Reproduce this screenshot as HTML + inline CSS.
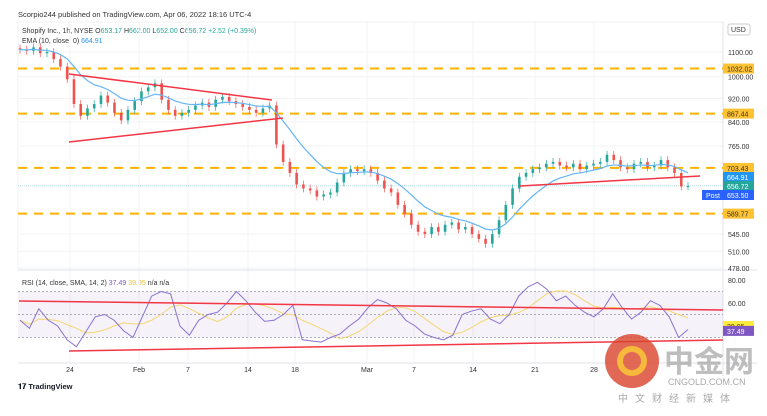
<!DOCTYPE html>
<html><head><meta charset="utf-8"><style>
body{margin:0;background:#fff;font-family:"Liberation Sans","Noto Sans CJK SC",sans-serif;}
#wrap{position:relative;width:767px;height:416px;overflow:hidden;background:#fff;}
svg{position:absolute;left:0;top:0;}
</style></head><body>
<div id="wrap">
<svg id="c" width="767" height="416">
<text x="18" y="17" font-size="7.5" fill="#333">Scorpio244 published on TradingView.com, Apr 06, 2022 18:16 UTC-4</text>
<text x="22" y="33" font-size="7" fill="#333">Shopify Inc., 1h, NYSE <tspan fill="#333">O</tspan><tspan fill="#26a69a">653.17</tspan> H<tspan fill="#26a69a">662.00</tspan> L<tspan fill="#26a69a">652.00</tspan> C<tspan fill="#26a69a">656.72</tspan> <tspan fill="#26a69a">+2.52 (+0.39%)</tspan></text>
<text x="22" y="43" font-size="7" fill="#333">EMA (10, close, 0) <tspan fill="#2196f3">664.91</tspan></text>
<text x="22" y="285" font-size="7" fill="#333">RSI (14, close, SMA, 14, 2) <tspan fill="#7e57c2">37.49</tspan> <tspan fill="#e0c040">39.95</tspan> n/a n/a</text>
</svg>
</div>
<script>
const closes=[1110,1105,1120,1095,1100,1070,1040,990,900,860,885,900,930,905,870,845,880,910,945,960,975,915,880,860,870,880,895,905,890,915,925,910,900,890,880,870,885,895,770,720,690,660,650,645,630,635,640,665,690,700,695,700,690,670,650,640,610,590,565,550,545,560,550,565,570,555,560,545,535,525,545,575,610,650,680,690,700,705,715,720,710,705,715,700,710,715,720,740,725,705,700,715,720,705,710,725,705,690,655,656];
const rsiVals=[45,38,55,45,40,28,22,35,48,50,45,36,30,48,66,70,68,40,32,45,50,52,60,70,62,52,44,45,50,58,28,27,26,30,33,40,46,56,63,60,55,45,40,33,30,28,32,50,53,55,46,42,50,66,74,78,72,62,66,58,52,48,55,68,56,46,52,62,58,48,30,37];
const levels=[1032.02,867.44,703.43,589.77];
const priceTicks=[1100,1000,920,840,765,545,510,478];
const rsiTicks=[80,60];
const timeLabels=["24","Feb","7","14","18","Mar","7","14","21","28"];
const timePos=[70,139,188,248,295,367,414,473,535,594];

const NS="http://www.w3.org/2000/svg";
const svg=document.getElementById('c');
function el(t,a,p){const e=document.createElementNS(NS,t);for(const k in a)e.setAttribute(k,a[k]);(p||svg).appendChild(e);return e;}
const X0=18,X1=723;
function yP(p){return 52+(Math.log(1100)-Math.log(p))*259.3;}
function yR(r){return 303+(60-r)*1.15;}
function xI(i){return 20+i*(668/(closes.length-1));}
function xR(i){return 20+i*(668/(rsiVals.length-1));}

let g=el('rect',{x:X0,y:22,width:X1-X0,height:248,fill:'none',stroke:'#eef0f3'});

for(const gx of timePos){let l=el('line',{x1:gx,x2:gx,y1:22,y2:363,stroke:'#f2f3f5'});}
for(const t of priceTicks){let l=el('line',{x1:X0,x2:X1,y1:yP(t),y2:yP(t),stroke:'#f2f3f5'});}
let sep=el('line',{x1:X0,x2:757,y1:270,y2:270,stroke:'#e0e3eb'});
let sep2=el('line',{x1:X0,x2:757,y1:363,y2:363,stroke:'#e0e3eb'});
let ax=el('line',{x1:X1,x2:X1,y1:22,y2:376,stroke:'#e0e3eb'});

let cp=el('line',{x1:X0,x2:X1,y1:yP(656.72),y2:yP(656.72),stroke:'#b8dbe8','stroke-dasharray':'1 1'});

levels.forEach(v=>{let l=el('line',{x1:X0,x2:X1,y1:yP(v),y2:yP(v),stroke:'#ffb300','stroke-width':2,'stroke-dasharray':'9 7'});});

for(let i=0;i<closes.length;i++){
 const o=i?closes[i-1]:closes[0]*1.005,c=closes[i];
 const hi=Math.max(o,c)*1.015,lo=Math.min(o,c)*0.985;
 const col=c>=o?'#26a69a':'#ef5350';const x=xI(i);
 let w=el('line',{x1:x,x2:x,y1:yP(hi),y2:yP(lo),stroke:col,'stroke-width':0.7});
 const yt=yP(Math.max(o,c)),yb=yP(Math.min(o,c));
 let b=el('rect',{x:x-1.3,y:yt,width:2.6,height:Math.max(1,yb-yt),fill:col});
}
let ema=[],k=2/11;closes.forEach((c,i)=>ema.push(i?c*k+ema[i-1]*(1-k):c));
let ep=el('polyline',{points:ema.map((v,i)=>xI(i)+','+yP(v)).join(' '),fill:'none',stroke:'#64b5f6','stroke-width':1.2});


[[69,74,272,100],[69,142,283,118],[520,186,700,176]].forEach(a=>{let l=el('line',{x1:a[0],y1:a[1],x2:a[2],y2:a[3],stroke:'#f23645','stroke-width':1.5});});

let band=el('rect',{x:X0,y:yR(70),width:X1-X0,height:yR(30)-yR(70),fill:'#7e57c2','fill-opacity':0.08});
[70,50,30].forEach(v=>{let l=el('line',{x1:X0,x2:X1,y1:yR(v),y2:yR(v),stroke:'#9598a1','stroke-dasharray':'2 2','stroke-width':0.7});});
let sma=rsiVals.map((v,i)=>{let s=0,n=0;for(let j=Math.max(0,i-4);j<=i;j++){s+=rsiVals[j];n++;}return s/n;});
let sp=el('polyline',{points:sma.map((v,i)=>xR(i)+','+yR(v)).join(' '),fill:'none',stroke:'#f5d76e','stroke-width':1});
let rp=el('polyline',{points:rsiVals.map((v,i)=>xR(i)+','+yR(v)).join(' '),fill:'none',stroke:'#8c72d0','stroke-width':1});
[[19,301,723,310],[69,351,723,340]].forEach(a=>{let l=el('line',{x1:a[0],y1:a[1],x2:a[2],y2:a[3],stroke:'#f23645','stroke-width':1.5});});

priceTicks.forEach(t=>{let tx=el('text',{x:728,y:yP(t)+3,'font-size':7,fill:'#333'});tx.textContent=t.toFixed(2);});
rsiTicks.forEach(t=>{let tx=el('text',{x:728,y:yR(t)+3,'font-size':7,fill:'#333'});tx.textContent=t.toFixed(2);});
function tag(v,y,bg,fg,name){let r=el('rect',{x:723,y:y-5,width:31,height:10,fill:bg});let t=el('text',{x:727,y:y+3,'font-size':7,fill:fg});t.textContent=v;}
levels.forEach(v=>tag(v.toFixed(2),yP(v),'#ffc233','#333','level-price-tag'));
tag('664.91',177,'#2196f3','#fff','ema-price-tag');
tag('656.72',186,'#26a69a','#fff','last-price-tag');
tag('653.50',195,'#2962ff','#fff','post-price-tag');
let pb=el('rect',{x:702,y:190,width:21,height:10,fill:'#2962ff'});
let pt=el('text',{x:706,y:198,'font-size':7,fill:'#fff'});pt.textContent='Post';
tag('39.95',yR(39.95),'#ffeb3b','#333','rsi-sma-tag');
tag('37.49',yR(37.49)+2,'#7e57c2','#fff','rsi-value-tag');
let ub=el('rect',{x:728,y:24,width:22,height:11,rx:2,fill:'#fff',stroke:'#ccc'});
let ut=el('text',{x:731,y:32,'font-size':7,fill:'#333'});ut.textContent='USD';

timeLabels.forEach((s,i)=>{let t=el('text',{x:timePos[i],y:372,'font-size':7,fill:'#333','text-anchor':'middle'});t.textContent=s;});
let tv=el('text',{x:18,y:389,'font-size':7.5,fill:'#131722','font-weight':'bold'});tv.textContent='𝟏𝟕 TradingView';

let wc=el('circle',{cx:632,cy:361,r:27,fill:'#d9422a','fill-opacity':0.8});
let wi=el('circle',{cx:632,cy:361,r:12,fill:'none',stroke:'#f6b93b','stroke-width':6});
let w1=el('text',{x:664,y:372,'font-size':30,fill:'#a8a8a8','fill-opacity':0.75,'font-weight':'bold'});w1.textContent='中金网';
let w2=el('text',{x:668,y:385,'font-size':9,fill:'#aaa'});w2.textContent='CNGOLD.COM.CN';
let w3=el('text',{x:618,y:402,'font-size':10,fill:'#aaa','letter-spacing':'7'});w3.textContent='中文财经新媒体';
</script>
</body></html>
